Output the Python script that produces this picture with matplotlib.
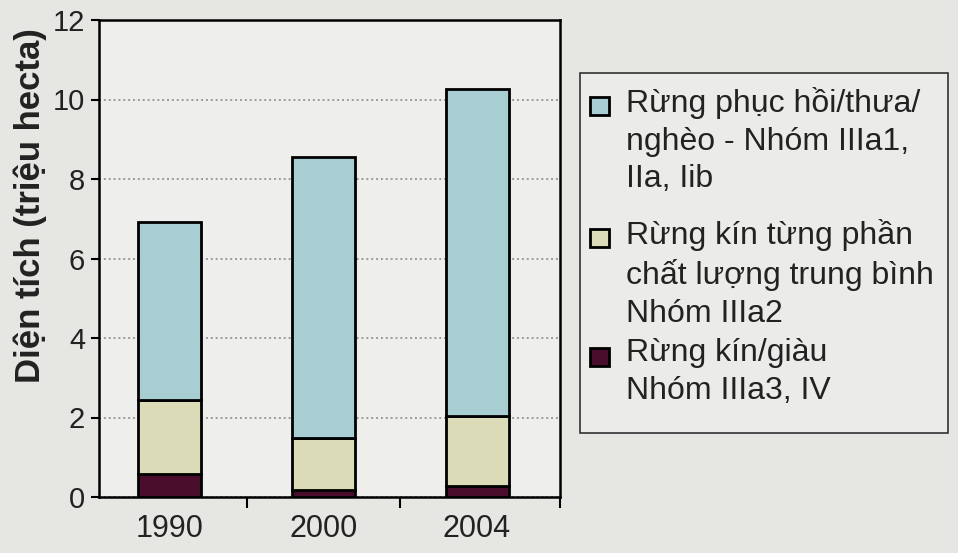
import matplotlib
matplotlib.use("Agg")
import matplotlib.pyplot as plt
from matplotlib.patches import Rectangle
import numpy as np

plt.rcParams['font.family'] = ['Liberation Sans', 'DejaVu Sans']

years = ["1990", "2000", "2004"]
rich = [0.58, 0.18, 0.28]          # Rừng kín/giàu
medium = [1.87, 1.30, 1.75]        # Rừng kín từng phần
poor = [4.48, 7.07, 8.24]          # Rừng phục hồi/thưa/nghèo

labels = ["Rừng phục hồi/thưa/\nnghèo - Nhóm IIIa1,\nIIa, Iib",
          "Rừng kín từng phần\nchất lượng trung bình\nNhóm IIIa2",
          "Rừng kín/giàu\nNhóm IIIa3, IV"]
colors = ["#a8cdd2", "#dcdbb8", "#4a0e2c"]
ylabel = "Diện tích (triệu hecta)"
yticks = [0, 2, 4, 6, 8, 10, 12]

W, H = 958, 553
fig = plt.figure(figsize=(W / 100, H / 100), dpi=100, facecolor="#e6e6e3")
ax = fig.add_axes([99 / W, 1 - 497 / H, 461 / W, 477 / H])
ax.set_facecolor("#eeeeec")

x = np.arange(len(years))
w = 0.41
ax.set_axisbelow(True)
ax.yaxis.grid(True, linestyle=(0, (1, 1.5)), color="#9a9a9a", linewidth=1.4)
ax.bar(x, rich, w, color=colors[2], edgecolor="black", linewidth=2.0, zorder=3)
ax.bar(x, medium, w, bottom=rich, color=colors[1], edgecolor="black", linewidth=2.0, zorder=3)
bottom3 = np.array(rich) + np.array(medium)
ax.bar(x, poor, w, bottom=bottom3, color=colors[0], edgecolor="black", linewidth=2.0, zorder=3)

ax.set_ylim(0, 12)
ax.set_xlim(-0.46, 2.54)
ax.set_yticks(yticks)
ax.set_yticklabels([str(v) for v in yticks], fontsize=21, color="#222222")
ax.set_xticks(x)
ax.set_xticklabels(years, fontsize=22, color="#222222")
ax.tick_params(axis='x', length=0, pad=12)
ax.set_xticks([0.5, 1.5, 2.54], minor=True)
ax.tick_params(axis='x', which='minor', length=8, width=1.5, direction='out')
ax.tick_params(axis='y', length=6, width=1.5, direction='out', pad=4)
for s in ax.spines.values():
    s.set_linewidth(1.8)
    s.set_color("black")
ax.set_ylabel(ylabel, fontsize=25, fontweight='bold', color="#222222")
ax.yaxis.set_label_coords(-0.113, 0.61)

# legend box (drawn in figure pixel layout)
def fx(px):
    return px / W

def fy(py):
    return 1 - py / H

fig.patches.append(Rectangle((fx(580), fy(433)), fx(948) - fx(580), fy(73) - fy(433),
                             transform=fig.transFigure, facecolor="#ebebe9",
                             edgecolor="#333333", linewidth=1.2, zorder=1))
first_line_y = [106, 238, 357]
for c, lab, yy in zip(colors, labels, first_line_y):
    fig.patches.append(Rectangle((fx(590), fy(yy + 9)), fx(609) - fx(590), fy(yy - 9) - fy(yy + 9),
                                 transform=fig.transFigure, facecolor=c,
                                 edgecolor="black", linewidth=2.0, zorder=2))
    fig.text(fx(626), fy(yy - 19), lab, fontsize=23, color="#222222",
             va='top', ha='left', linespacing=1.33, zorder=3)

fig.savefig("out.png", dpi=100, facecolor=fig.get_facecolor())
